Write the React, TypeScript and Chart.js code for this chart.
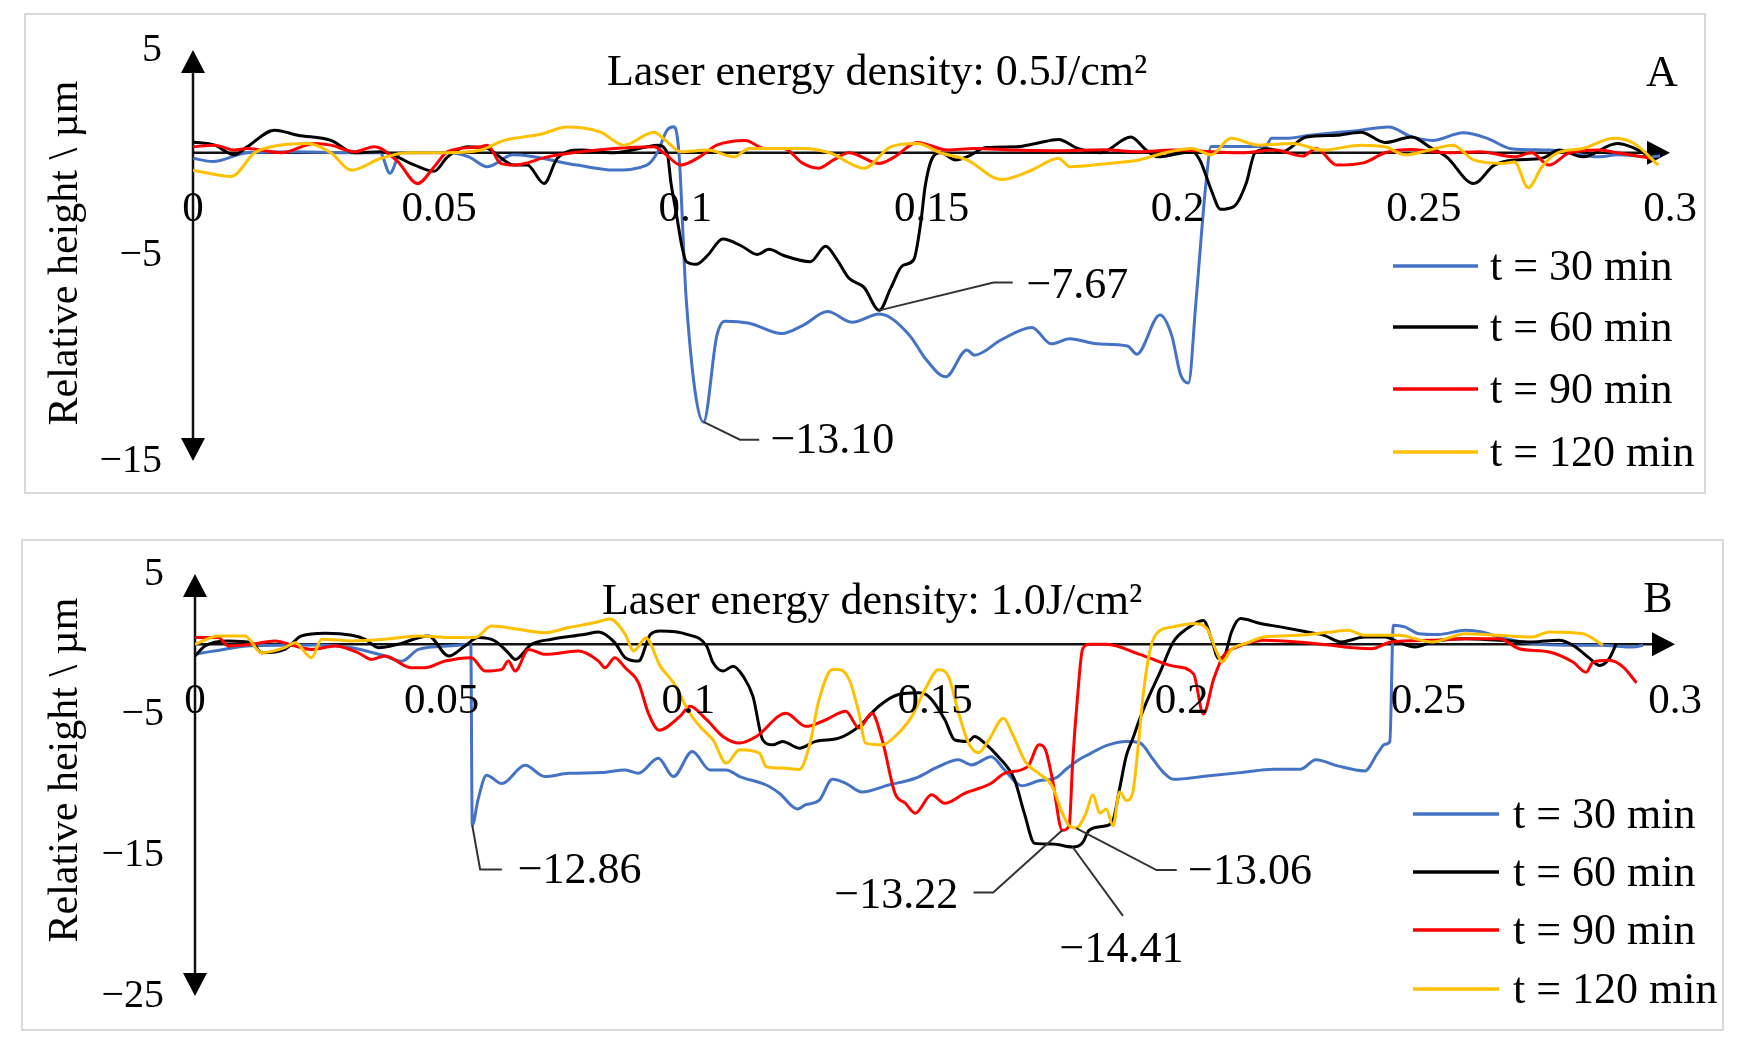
import React, {useEffect, useRef} from 'react'
import {Chart, registerables} from 'chart.js'
import type {Plugin} from 'chart.js'

Chart.register(...registerables)

type Pt = [number, number]

// series names and colours (same in both panels)
const seriesLabels = ['t = 30 min', 't = 60 min', 't = 90 min', 't = 120 min']
const seriesColors = ['#4472C4', '#000000', '#FF0000', '#FFC000']

// axis ticks
const xTicks = [0, 0.05, 0.1, 0.15, 0.2, 0.25, 0.3]
const yTicksA = [5, -5, -15]
const yTicksB = [5, -5, -15, -25]

// ---- panel A : 0.5 J/cm2 ----
const aT30: Pt[] = [
  [0, -0.27], [0.004, -0.43], [0.011, 0], [0.021, 0.05], [0.031, 0], [0.038, 0], [0.04, -1.0], [0.0422, 0],
  [0.052, 0], [0.056, -0.2], [0.0598, -0.68], [0.065, -0.1], [0.078, -0.6], [0.0855, -0.84], [0.0922, -0.6],
  [0.0943, 0], [0.0963, 1.1], [0.0977, 1.26], [0.0987, 0], [0.1002, -7.2], [0.1037, -13.1], [0.1064, -8.9],
  [0.108, -8.2], [0.113, -8.3], [0.1196, -8.8], [0.1239, -8.4], [0.1289, -7.73], [0.1339, -8.25], [0.1394, -7.85],
  [0.1456, -8.9], [0.1487, -10.0], [0.1529, -10.9], [0.1572, -9.6], [0.1587, -9.85], [0.1642, -9.1], [0.1704, -8.5],
  [0.1743, -9.3], [0.1781, -9.05], [0.1836, -9.3], [0.1898, -9.4], [0.1917, -9.8], [0.1964, -7.9], [0.1988, -8.9],
  [0.2006, -10.8], [0.2022, -11.2], [0.2037, -7.3], [0.2057, -1.6], [0.2068, 0.3], [0.2178, 0.3], [0.2191, 0.7],
  [0.222, 0.7], [0.2268, 0.85], [0.2372, 1.1], [0.2428, 1.25], [0.2476, 0.77], [0.2518, 0.6], [0.258, 0.97],
  [0.2629, 0.7], [0.2677, 0.2], [0.2754, 0.13], [0.2858, -0.2], [0.2893, -0.1], [0.2962, -0.2], [0.298, -0.15],
]
const aT60: Pt[] = [
  [0, 0.53], [0.0044, 0.37], [0.0084, -0.1], [0.011, 0.29], [0.0166, 1.1], [0.0213, 0.85], [0.028, 0.6], [0.0328, 0],
  [0.0382, 0.05], [0.045, -0.6], [0.049, -0.9], [0.0517, -0.2], [0.0557, 0.29], [0.0598, 0.2], [0.0652, -0.6],
  [0.0679, -0.6], [0.0713, -1.5], [0.074, -0.27], [0.0787, 0.13], [0.0855, 0], [0.0922, 0.29], [0.0943, 0.37],
  [0.0963, 0], [0.0971, -1.5], [0.0982, -3.0], [0.0993, -4.55], [0.1002, -5.3], [0.1022, -5.43], [0.1045, -5.0],
  [0.1076, -4.2], [0.1115, -4.55], [0.1146, -4.95], [0.117, -4.7], [0.12, -5.0], [0.1254, -5.3], [0.1285, -4.55],
  [0.1308, -5.2], [0.1332, -6.1], [0.1363, -6.55], [0.1394, -7.67], [0.1417, -6.6], [0.1441, -5.5], [0.1464, -5.2],
  [0.1479, -3.25], [0.1487, -1.65], [0.1503, -0.2], [0.1518, 0], [0.1549, -0.35], [0.1572, -0.2], [0.1611, 0.25],
  [0.1673, 0.29], [0.1712, 0.45], [0.1758, 0.65], [0.1797, 0.21], [0.1843, 0], [0.1905, 0.77], [0.1936, 0.13],
  [0.1959, -0.2], [0.2029, 0.05], [0.2045, -0.35], [0.2068, -1.8], [0.2087, -2.75], [0.2115, -2.6], [0.2139, -1.5],
  [0.2157, 0], [0.2184, 0.2], [0.2212, 0.05], [0.2261, 0.77], [0.2323, 0.85], [0.2372, 1.0], [0.2421, 0.5],
  [0.2476, 0.77], [0.2511, 0.29], [0.2546, -0.2], [0.2601, -1.5], [0.2643, -0.6], [0.2684, -0.35], [0.274, -0.27],
  [0.2775, 0.13], [0.2823, -0.2], [0.2893, 0.45], [0.2921, 0.29], [0.2962, -0.2],
]
const aT90: Pt[] = [
  [0, 0.29], [0.0044, 0.37], [0.0084, 0.13], [0.011, 0.21], [0.0179, 0], [0.0247, 0.45], [0.028, 0.37], [0.0328, 0.05],
  [0.0368, 0.29], [0.0416, -0.43], [0.0456, -1.5], [0.049, -0.68], [0.0517, 0.05], [0.0584, 0.29], [0.0598, 0.37],
  [0.0625, -0.52], [0.0652, -0.6], [0.072, -0.2], [0.0787, 0.05], [0.0855, 0.21], [0.0936, 0.29], [0.0956, 0],
  [0.0991, -0.6], [0.1029, -0.2], [0.1064, 0.37], [0.1122, 0.6], [0.1161, 0.21], [0.12, 0.21], [0.1239, -0.52],
  [0.127, -0.75], [0.1301, -0.35], [0.1332, 0], [0.1394, -0.52], [0.1425, -0.2], [0.1471, 0.5], [0.1533, 0.13],
  [0.1587, 0.21], [0.1665, 0.13], [0.175, 0.1], [0.185, 0.15], [0.192, 0.05], [0.199, 0.13], [0.2129, 0],
  [0.2198, 0.13], [0.2254, -0.16], [0.2282, 0.21], [0.2323, -0.6], [0.2379, -0.48], [0.2421, 0], [0.2476, 0.16],
  [0.2546, 0], [0.2615, 0.05], [0.2684, -0.2], [0.2719, 0], [0.2754, -0.6], [0.2796, 0], [0.2858, 0.13], [0.2893, 0],
  [0.2962, -0.27],
]
const aT120: Pt[] = [
  [0, -0.85], [0.0078, -1.15], [0.0125, 0], [0.0159, 0.29], [0.0233, 0.45], [0.028, 0], [0.0321, -0.85], [0.0382, -0.27],
  [0.0436, 0], [0.0517, 0], [0.0584, 0.13], [0.0632, 0.6], [0.0706, 0.9], [0.076, 1.25], [0.0828, 1.0], [0.0875, 0.37],
  [0.0936, 1.0], [0.096, 0.6], [0.0991, 0.05], [0.1045, 0.13], [0.1099, -0.2], [0.113, 0.21], [0.1184, 0.21],
  [0.1239, 0.21], [0.1293, 0], [0.1363, -0.75], [0.1417, 0.29], [0.1471, 0.45], [0.1518, 0], [0.1572, -0.35],
  [0.1642, -1.3], [0.1704, -0.84], [0.1758, -0.27], [0.1781, -0.68], [0.1859, -0.52], [0.1921, -0.35], [0.1975, 0],
  [0.2029, 0.21], [0.2068, -0.1], [0.2108, 0.7], [0.2164, 0.37], [0.2233, 0.45], [0.2296, 0.13], [0.2372, 0.37],
  [0.2421, 0.29], [0.2462, -0.1], [0.2511, 0.13], [0.2559, 0.37], [0.2601, -0.35], [0.266, -0.52], [0.2684, -0.45],
  [0.2712, -1.7], [0.274, -0.68], [0.2768, -0.05], [0.2823, 0.21], [0.2886, 0.7], [0.2927, 0.45], [0.2976, -0.6],
]

// ---- panel B : 1.0 J/cm2 ----
const bT30: Pt[] = [
  [0, -0.7], [0.0034, -0.5], [0.0115, -0.1], [0.025, -0.05], [0.0318, -0.24], [0.0385, -0.83], [0.0419, -1.2],
  [0.0453, -0.36], [0.052, -0.1], [0.0559, 0], [0.0562, -12.86], [0.0574, -11.0], [0.0591, -9.3], [0.0622, -9.9],
  [0.0669, -8.6], [0.0709, -9.4], [0.0757, -9.17], [0.0824, -9.12], [0.0872, -8.93], [0.0899, -9.17], [0.0939, -8.1],
  [0.097, -9.4], [0.1008, -7.62], [0.1044, -8.93], [0.1077, -8.93], [0.1104, -9.4], [0.1158, -10.0], [0.1185, -10.6],
  [0.1221, -11.7], [0.1238, -11.4], [0.1265, -11.1], [0.1292, -9.6], [0.1319, -9.88], [0.1352, -10.5], [0.1406, -10.0],
  [0.146, -9.52], [0.1507, -8.7], [0.1547, -8.2], [0.1574, -8.57], [0.1614, -8.0], [0.1641, -8.93], [0.1676, -10.05],
  [0.1711, -9.7], [0.1745, -9.5], [0.1765, -8.9], [0.1793, -8.17], [0.1813, -7.8], [0.1847, -7.2], [0.1888, -6.9],
  [0.1915, -7.0], [0.1942, -8.17], [0.1963, -9.1], [0.1983, -9.6], [0.2051, -9.36], [0.2119, -9.12], [0.2187, -8.88],
  [0.2241, -8.88], [0.2272, -8.2], [0.2316, -8.64], [0.2371, -9.0], [0.2398, -7.7], [0.2412, -7.1], [0.2422, -6.9],
  [0.2429, 1.36], [0.2452, 1.24], [0.248, 0.76], [0.252, 0.7], [0.2575, 1.0], [0.2609, 0.88], [0.2643, 0.52],
  [0.2711, 0.05], [0.2779, -0.07], [0.2847, -0.07], [0.2915, -0.19], [0.2935, -0.07],
]
const bT60: Pt[] = [
  [0, -0.83], [0.002, -0.12], [0.0068, 0.24], [0.0115, 0.12], [0.0135, -0.6], [0.0182, -0.36], [0.0216, 0.6],
  [0.0264, 0.79], [0.0318, 0.64], [0.0345, 0.36], [0.0372, -0.24], [0.0412, 0], [0.0473, 0.6], [0.0514, -0.83],
  [0.0547, -0.12], [0.0574, 0.48], [0.0608, 0.24], [0.0635, -0.6], [0.0649, -1.07], [0.0682, 0], [0.0723, 0.36],
  [0.0791, 0.71], [0.0818, 0.88], [0.0851, 0.12], [0.0872, -0.95], [0.0899, -1.19], [0.0923, 0.7], [0.0943, 0.95],
  [0.0997, 0.71], [0.1037, -0.12], [0.105, -1.3], [0.107, -1.9], [0.1091, -1.55], [0.1111, -2.26], [0.1131, -3.7],
  [0.1151, -6.8], [0.1171, -7.14], [0.1191, -6.9], [0.1225, -7.38], [0.1258, -6.9], [0.1305, -6.67], [0.1346, -5.83],
  [0.1386, -4.4], [0.1426, -3.57], [0.1466, -3.45], [0.1487, -3.7], [0.152, -5.36], [0.154, -6.8], [0.1567, -6.9],
  [0.158, -6.55], [0.16, -7.0], [0.1628, -7.98], [0.1661, -9.6], [0.1681, -12.0], [0.1702, -14.15], [0.1738, -14.2],
  [0.1779, -14.41], [0.1799, -14.1], [0.1813, -13.2], [0.1847, -12.9], [0.1861, -12.5], [0.1874, -10.3], [0.1888, -7.9],
  [0.1901, -6.7], [0.1915, -5.3], [0.1935, -3.6], [0.1956, -2.0], [0.1983, 0.17], [0.201, 1.1], [0.2044, 1.7],
  [0.2062, 0.2], [0.2074, -1.0], [0.2087, -0.8], [0.2101, 0.88], [0.2119, 1.83], [0.216, 1.48], [0.22, 1.24],
  [0.2255, 0.88], [0.2289, 0.64], [0.2323, 0.17], [0.2371, 0.52], [0.2412, 0.52], [0.2439, 0.17], [0.2473, -0.19],
  [0.2507, 0.17], [0.2575, 0.4], [0.2643, 0.29], [0.2711, 0.17], [0.2765, 0.29], [0.2793, -0.07], [0.2827, -1.0],
  [0.2847, -1.5], [0.2867, -1.0], [0.2881, 0.05],
]
const bT90: Pt[] = [
  [0, 0.48], [0.0047, 0.48], [0.0068, -0.12], [0.0115, 0], [0.0162, 0.24], [0.0203, -0.12], [0.0236, -0.36],
  [0.0284, -0.12], [0.0331, -0.6], [0.0358, -1.07], [0.0385, -0.83], [0.0439, -1.67], [0.0466, -1.67], [0.0507, -1.19],
  [0.056, -0.95], [0.0588, -1.9], [0.0622, -1.78], [0.0635, -1.19], [0.0649, -1.9], [0.0676, -0.36], [0.071, -0.71],
  [0.0777, -0.48], [0.0818, -1.19], [0.0831, -1.67], [0.0851, -0.95], [0.0872, -1.67], [0.0899, -2.74], [0.0919, -4.9],
  [0.0941, -6.1], [0.0983, -5.12], [0.1003, -4.4], [0.1037, -5.36], [0.107, -6.55], [0.1104, -7.02], [0.1138, -6.55],
  [0.1198, -4.9], [0.1238, -5.83], [0.1279, -5.36], [0.1319, -4.76], [0.1346, -5.95], [0.1372, -4.9], [0.1393, -6.8],
  [0.1419, -10.6], [0.144, -11.3], [0.146, -12.0], [0.1493, -10.7], [0.152, -11.3], [0.156, -10.6], [0.1614, -9.88],
  [0.1641, -9.17], [0.1688, -8.69], [0.1711, -7.14], [0.1724, -7.5], [0.1738, -9.6], [0.1758, -13.22], [0.1772, -12.9],
  [0.1779, -8.4], [0.1789, -3.7], [0.1799, -0.36], [0.1813, 0], [0.1847, 0], [0.1915, -0.71], [0.1983, -1.55],
  [0.2024, -2.1], [0.2044, -4.95], [0.2065, -2.45], [0.2085, -0.8], [0.2112, -0.2], [0.2167, 0.29], [0.2235, 0.17],
  [0.2303, -0.07], [0.233, -0.19], [0.2384, -0.31], [0.2425, 0.17], [0.2507, 0.29], [0.2575, 0.4], [0.2643, 0.4],
  [0.2684, -0.31], [0.2745, -0.55], [0.2793, -1.26], [0.282, -1.98], [0.2834, -1.26], [0.2867, -1.14], [0.2895, -1.62],
  [0.2922, -2.74],
]
const bT120: Pt[] = [
  [0, 0], [0.0047, 0.6], [0.0101, 0.6], [0.0135, -0.6], [0.0182, -0.24], [0.0203, 0.12], [0.0236, -0.95], [0.0257, 0.36],
  [0.0318, 0.24], [0.0385, 0.36], [0.0453, 0.6], [0.052, 0.48], [0.0568, 0.48], [0.0601, 1.3], [0.0655, 1.07],
  [0.0709, 0.83], [0.0757, 1.19], [0.0811, 1.55], [0.0841, 1.8], [0.0872, 0.71], [0.0889, -0.48], [0.0914, 0.45],
  [0.0943, -1.55], [0.097, -2.74], [0.1003, -4.9], [0.1023, -5.83], [0.105, -6.8], [0.1077, -8.45], [0.1104, -7.5],
  [0.1144, -7.74], [0.1158, -8.7], [0.1191, -8.8], [0.1225, -8.9], [0.1245, -7.26], [0.1265, -3.93], [0.1292, -1.79],
  [0.1305, -1.79], [0.1326, -2.5], [0.1346, -4.9], [0.1359, -7.02], [0.1393, -7.14], [0.1419, -6.55], [0.1453, -5.12],
  [0.148, -3.2], [0.1507, -1.8], [0.1527, -2.26], [0.1548, -4.9], [0.1568, -7.02], [0.1588, -7.7], [0.1609, -6.8],
  [0.1639, -5.25], [0.1656, -6.3], [0.1684, -8.4], [0.1711, -9.2], [0.1738, -10.1], [0.1758, -12.0], [0.1772, -12.9],
  [0.1786, -13.06], [0.1806, -12.0], [0.182, -10.7], [0.1834, -12.0], [0.1847, -11.7], [0.1861, -12.9], [0.1874, -10.5],
  [0.1888, -11.1], [0.1901, -10.5], [0.1912, -7.2], [0.1922, -3.6], [0.1935, -0.55], [0.1949, 0.76], [0.1983, 1.24],
  [0.2024, 1.48], [0.2051, 1.12], [0.2071, -0.55], [0.2082, -1.26], [0.2101, -0.35], [0.2133, 0.1], [0.2167, 0.52],
  [0.2235, 0.64], [0.2303, 0.88], [0.2337, 1.0], [0.2371, 0.64], [0.2439, 0.64], [0.2507, 0.17], [0.2575, 0.76],
  [0.2643, 0.64], [0.2711, 0.52], [0.2745, 0.88], [0.2813, 0.76], [0.2854, -0.07],
]

const FONT = '"Liberation Serif", "Times New Roman", serif'

type Note = {series: number; path: Pt[]; at: Pt; align: CanvasTextAlign}
type Panel = {
  title: string
  letter: string
  yTicks: number[]
  series: Pt[][]
  notes: Note[]
  box: {left: number; top: number; width: number; height: number}
  pad: {left: number; right: number; top: number; bottom: number}
  titlePos: Pt
  letterPos: Pt
  yTitlePos: Pt
  legend: {x0: number; x1: number; tx: number; rows: number[]}
}

const panelA: Panel = {
  title: 'Laser energy density: 0.5J/cm\u00B2',
  letter: 'A',
  yTicks: yTicksA,
  series: [aT30, aT60, aT90, aT120],
  notes: [
    {series: 0, path: [[0.1111, -13.96], [0.115, -13.96]], at: [0.1173, -13.96], align: 'left'},
    {series: 1, path: [[0.1626, -6.31], [0.1665, -6.31]], at: [0.1693, -6.4], align: 'left'},
  ],
  box: {left: 24, top: 13, width: 1682, height: 481},
  pad: {left: 169, right: 36, top: 37, bottom: 33},
  titlePos: [853, 60],
  letterPos: [1638, 61],
  yTitlePos: [42, 240],
  legend: {x0: 1369, x1: 1454, tx: 1466, rows: [253, 314, 376, 439]},
}

const panelB: Panel = {
  title: 'Laser energy density: 1.0J/cm\u00B2',
  letter: 'B',
  yTicks: yTicksB,
  series: [bT30, bT60, bT90, bT120],
  notes: [
    {series: 0, path: [[0.0578, -16.0], [0.0622, -16.0]], at: [0.0654, -16.0], align: 'left'},
    {series: 2, path: [[0.1618, -17.65], [0.1578, -17.65]], at: [0.1547, -17.75], align: 'right'},
    {series: 1, path: [[0.1881, -19.3]], at: [0.1878, -21.6], align: 'center'},
    {series: 3, path: [[0.1949, -16.05], [0.199, -16.05]], at: [0.2013, -16.05], align: 'left'},
  ],
  box: {left: 21, top: 539, width: 1703, height: 492},
  pad: {left: 174, right: 49, top: 35, bottom: 35},
  titlePos: [851, 63],
  letterPos: [1637, 61],
  yTitlePos: [45, 231],
  legend: {x0: 1392, x1: 1478, tx: 1492, rows: [275, 333, 391, 450]},
}

const minus = (s: string) => s.replace('-', '\u2212')

const seriesMin = (pts: Pt[]): Pt => pts.reduce((m, p) => (p[1] < m[1] ? p : m), pts[0])

const decor = (panel: Panel): Plugin<'line'> => ({
  id: 'decor',
  beforeDatasetsDraw(chart) {
    const ctx = chart.ctx
    const xs = chart.scales.x
    const ys = chart.scales.y
    const x0 = xs.getPixelForValue(xs.min)
    const x1 = xs.getPixelForValue(xs.max)
    const y0 = ys.getPixelForValue(0)
    const yT = ys.getPixelForValue(ys.max)
    const yB = ys.getPixelForValue(ys.min)
    const ah = 23
    const aw = 12
    ctx.save()
    ctx.strokeStyle = '#111'
    ctx.fillStyle = '#000'
    ctx.lineWidth = 2.5
    ctx.beginPath()
    ctx.moveTo(x0, y0)
    ctx.lineTo(x1 - ah + 2, y0)
    ctx.moveTo(x0, yT + ah - 2)
    ctx.lineTo(x0, yB - ah + 2)
    ctx.stroke()
    // arrow heads
    ctx.beginPath()
    ctx.moveTo(x1, y0)
    ctx.lineTo(x1 - ah, y0 - aw)
    ctx.lineTo(x1 - ah, y0 + aw)
    ctx.closePath()
    ctx.moveTo(x0, yT)
    ctx.lineTo(x0 - aw, yT + ah)
    ctx.lineTo(x0 + aw, yT + ah)
    ctx.closePath()
    ctx.moveTo(x0, yB)
    ctx.lineTo(x0 - aw, yB - ah)
    ctx.lineTo(x0 + aw, yB - ah)
    ctx.closePath()
    ctx.fill()

    // y tick labels
    ctx.textBaseline = 'middle'
    ctx.font = `40px ${FONT}`
    ctx.textAlign = 'right'
    panel.yTicks.forEach((v) => ctx.fillText(minus(String(v)), x0 - 31, ys.getPixelForValue(v)))
    ctx.restore()
  },
  afterDatasetsDraw(chart) {
    const ctx = chart.ctx
    const xs = chart.scales.x
    const ys = chart.scales.y
    const y0 = ys.getPixelForValue(0)
    ctx.save()
    ctx.fillStyle = '#000'
    ctx.textBaseline = 'middle'

    // x tick labels sit over the curves, as in the original
    ctx.font = `43px ${FONT}`
    ctx.textAlign = 'center'
    xTicks.forEach((v) => ctx.fillText(String(v), xs.getPixelForValue(v), y0 + 57))

    // y axis title
    ctx.font = `42px ${FONT}`
    ctx.save()
    ctx.translate(panel.yTitlePos[0], panel.yTitlePos[1])
    ctx.rotate(-Math.PI / 2)
    ctx.fillText('Relative height \\ \u00B5m', 0, 0)
    ctx.restore()

    // title and panel letter
    ctx.font = `44px ${FONT}`
    ctx.fillText(panel.title, panel.titlePos[0], panel.titlePos[1])
    ctx.fillText(panel.letter, panel.letterPos[0], panel.letterPos[1])

    // legend
    const lg = panel.legend
    ctx.textAlign = 'left'
    seriesLabels.forEach((label, i) => {
      const y = lg.rows[i]
      ctx.strokeStyle = seriesColors[i]
      ctx.lineWidth = 3.5
      ctx.beginPath()
      ctx.moveTo(lg.x0, y)
      ctx.lineTo(lg.x1, y)
      ctx.stroke()
      ctx.fillText(label, lg.tx, y + 2)
    })

    // minimum value call-outs
    panel.notes.forEach((n) => {
      const m = seriesMin(panel.series[n.series])
      ctx.strokeStyle = '#333'
      ctx.lineWidth = 2
      ctx.beginPath()
      ctx.moveTo(xs.getPixelForValue(m[0]), ys.getPixelForValue(m[1]))
      n.path.forEach((p) => ctx.lineTo(xs.getPixelForValue(p[0]), ys.getPixelForValue(p[1])))
      ctx.stroke()
      ctx.textAlign = n.align
      ctx.fillText(minus(m[1].toFixed(2)), xs.getPixelForValue(n.at[0]), ys.getPixelForValue(n.at[1]) + 2)
    })
    ctx.restore()
  },
})

const PanelChart: React.FC<{panel: Panel}> = ({panel}) => {
  const chartRef = useRef<HTMLCanvasElement | null>(null)

  useEffect(() => {
    if (!chartRef.current) {
      return
    }
    const yt = panel.yTicks
    const chart = new Chart(chartRef.current, {
      type: 'line',
      data: {
        datasets: panel.series.map((pts, i) => ({
          label: seriesLabels[i],
          data: pts.map(([x, y]) => ({x, y})),
          borderColor: seriesColors[i],
          borderWidth: 3,
          pointRadius: 0,
          fill: false,
          cubicInterpolationMode: 'monotone' as const,
          order: 4 - i,
        })),
      },
      options: {
        animation: false,
        responsive: false,
        layout: {padding: panel.pad},
        plugins: {legend: {display: false}, tooltip: {enabled: false}},
        scales: {
          x: {type: 'linear', min: xTicks[0], max: xTicks[xTicks.length - 1], display: false},
          y: {type: 'linear', min: Math.min(...yt), max: Math.max(...yt), display: false},
        },
      },
      plugins: [decor(panel)],
    })
    return () => chart.destroy()
  }, [panel])

  const {box} = panel
  return (
    <div style={{position: 'absolute', left: box.left, top: box.top, width: box.width, height: box.height}}>
      <div
        style={{
          position: 'absolute',
          left: 0,
          top: 0,
          width: box.width,
          height: box.height,
          border: '2px solid #d9d9d9',
          boxSizing: 'border-box',
        }}
      />
      <canvas
        ref={chartRef}
        width={box.width}
        height={box.height}
        style={{position: 'absolute', left: 0, top: 0, width: box.width, height: box.height}}
      />
    </div>
  )
}

export default function App() {
  return (
    <div style={{position: 'absolute', left: 0, top: 0, width: 1737, height: 1052, background: '#fff'}}>
      <PanelChart panel={panelA} />
      <PanelChart panel={panelB} />
    </div>
  )
}
